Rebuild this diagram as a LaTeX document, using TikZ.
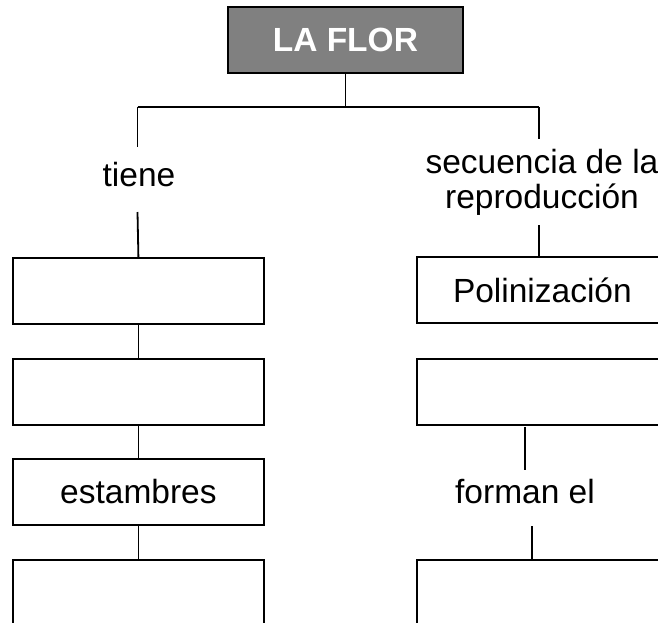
\documentclass[tikz,border=0pt]{standalone}
\usepackage{fontspec}
\setmainfont{Liberation Sans}
\tikzset{
  box/.style={draw, minimum width=251pt, minimum height=66pt, inner sep=0pt,
    anchor=north west, font=\fontsize{33.5}{35}\selectfont},
  titlebox/.style={draw, fill=flgray, minimum width=235pt, minimum height=66pt,
    inner sep=0pt, anchor=north west, text=white,
    font=\fontsize{33.5}{35}\selectfont\bfseries},
  lbl/.style={font=\fontsize{33.5}{35}\selectfont, inner sep=0pt, align=center, anchor=base},
  conn/.style={draw, line width=1.8pt}
}
\definecolor{flgray}{HTML}{808080}
\begin{document}
\begin{tikzpicture}[x=1pt, y=-1pt, line width=1.8pt]
\useasboundingbox (0,0) rectangle (658,623);
\clip (0,0) rectangle (658,623);

% title
\node[titlebox] (top) at (227,6) {LA FLOR};

% left column boxes
\node[box] (l1) at (12,257) {};
\node[box] (l2) at (12,358) {};
\node[box] (l3) at (12,458) {estambres};
\node[box, minimum height=130pt] (l4) at (12,559) {};

% right column boxes
\node[box] (r1) at (416,256) {Polinización};
\node[box] (r2) at (416,358) {};
\node[box, minimum height=130pt] (r3) at (416,559) {};

% labels
\node[lbl] (tiene) at (139,186) {tiene};
\node[lbl] (sec) at (542,208) {secuencia de la\\reproducción};
\node[lbl] (forman) at (525,503) {forman el};

% coordinates for connector ends
\coordinate (hl) at (137.5,107);
\coordinate (hr) at (539,107);
\coordinate (t1) at (137.5,147);
\coordinate (t2) at (137.5,212);
\coordinate (s1) at (539,139);
\coordinate (s2) at (539,225);
\coordinate (f1) at (525,427);
\coordinate (f2) at (525,470);
\coordinate (f3) at (532,526);

% connectors
\draw[conn] (top.south) -- (top.south |- hl);
\draw[conn] (hl) -- (hr);
\draw[conn] (hl) -- (t1);
\draw[conn] (t2) -- (l1.north);
\draw[conn] (l1.south) -- (l2.north);
\draw[conn] (l2.south) -- (l3.north);
\draw[conn] (l3.south) -- (l4.north);
\draw[conn] (hr) -- (s1);
\draw[conn] (s2) -- (s2 |- r1.north);
\draw[conn] (f1) -- (f2);
\draw[conn] (f3) -- (f3 |- r3.north);
\end{tikzpicture}
\end{document}
